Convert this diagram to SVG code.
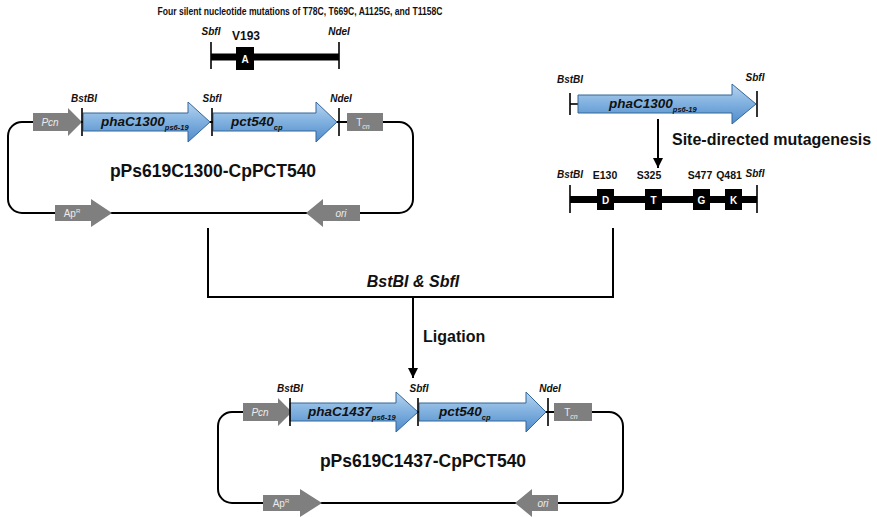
<svg xmlns="http://www.w3.org/2000/svg" width="877" height="517" viewBox="0 0 877 517">
  <defs>
    <linearGradient id="blueFill" x1="0" y1="0" x2="0" y2="1">
      <stop offset="0" stop-color="#b9d5f0"/>
      <stop offset="0.45" stop-color="#84b3e0"/>
      <stop offset="1" stop-color="#4f8bcb"/>
    </linearGradient>
    <marker id="arrowHead" viewBox="0 0 10 10" refX="10" refY="5" markerWidth="10" markerHeight="10" markerUnits="userSpaceOnUse" orient="auto">
      <path d="M0,0 L10,5 L0,10 Z" fill="#000"/>
    </marker>
  </defs>
  <style>
    text { font-family: "Liberation Sans", Arial, sans-serif; }
    .site { font-size: 10px; font-weight: bold; font-style: italic; text-anchor: middle; fill: #111; }
    .gene { font-size: 13.5px; font-weight: bold; font-style: italic; fill: #111; }
    .sub { font-size: 7.5px; }
    .gray { fill: #7f7f7f; }
    .grayText { font-size: 10px; fill: #ececec; text-anchor: middle; }
    .blue { fill: url(#blueFill); stroke: #336699; stroke-width: 1; }
    .tick { stroke: #000; stroke-width: 1.6; }
    .line { stroke: #000; stroke-width: 2; fill: none; }
    .bar { fill: #000; }
    .box { fill: #000; }
    .boxText { font-size: 10px; font-weight: bold; fill: #fff; text-anchor: middle; }
    .pos { font-size: 10.5px; font-weight: bold; fill: #111; text-anchor: middle; }
    .name { font-size: 17.5px; font-weight: bold; fill: #111; text-anchor: middle; }
    .step { font-size: 16px; font-weight: bold; fill: #111; }
  </style>

  <rect width="877" height="517" fill="#fff"/>

  <!-- SbfI–NdeI fragment carrying the silent mutations -->
  <g id="silent-fragment">
    <text x="300" y="15" font-size="10.5" font-weight="bold" text-anchor="middle" fill="#111" textLength="285" lengthAdjust="spacingAndGlyphs">Four silent nucleotide mutations of T78C, T669C, A1125G, and T1158C</text>
    <text class="site" x="211" y="35">SbfI</text>
    <text class="site" x="339" y="35">NdeI</text>
    <text x="246" y="40" font-size="12" font-weight="bold" text-anchor="middle" fill="#111">V193</text>
    <rect class="bar" x="211" y="53.5" width="128" height="7"/>
    <line class="tick" x1="211" y1="42" x2="211" y2="69"/>
    <line class="tick" x1="339" y1="42" x2="339" y2="69"/>
    <rect class="box" x="236" y="47" width="18" height="23"/>
    <text class="boxText" x="245" y="63">A</text>
  </g>

  <!-- Parent plasmid -->
  <g id="plasmid-c1300">
    <rect class="line" x="8" y="122" width="405" height="91" rx="14"/>
    <polygon class="gray" points="33,113 68,113 68,108 82,122 68,136 68,131 33,131"/>
    <text class="grayText" x="50" y="126" font-style="italic">Pcn</text>
    <polygon class="blue" points="83,113 188,113 188,102 210,122 188,142 188,131 83,131"/>
    <text class="gene" x="101" y="126">phaC1300<tspan class="sub" dy="4">ps6-19</tspan></text>
    <polygon class="blue" points="213,113 316,113 316,102 337,122 316,142 316,131 213,131"/>
    <text class="gene" x="231" y="126">pct540<tspan class="sub" dy="4">cp</tspan></text>
    <rect class="gray" x="347" y="113" width="36" height="18"/>
    <text class="grayText" x="363" y="126">T<tspan font-size="7" font-style="italic" dy="3">cn</tspan></text>
    <line class="tick" x1="82" y1="108" x2="82" y2="136"/>
    <line class="tick" x1="212" y1="108" x2="212" y2="136"/>
    <line class="tick" x1="339" y1="108" x2="339" y2="136"/>
    <text class="site" x="84" y="102">BstBI</text>
    <text class="site" x="212" y="102">SbfI</text>
    <text class="site" x="341" y="102">NdeI</text>
    <text class="name" x="213" y="177">pPs619C1300-CpPCT540</text>
    <polygon class="gray" points="55,205 91,205 91,199 112,213 91,227 91,221 55,221"/>
    <text class="grayText" x="72" y="217">Ap<tspan font-size="6" dy="-4">R</tspan></text>
    <polygon class="gray" points="360,205 323,205 323,199 306,213 323,227 323,221 360,221"/>
    <text class="grayText" x="341" y="217" font-style="italic">ori</text>
  </g>

  <!-- phaC1300 BstBI–SbfI insert -->
  <g id="insert-phaC1300">
    <line class="tick" x1="570" y1="93" x2="570" y2="115"/>
    <line class="tick" x1="570" y1="104" x2="580" y2="104"/>
    <polygon class="blue" points="578,95 732,95 732,84 756,104 732,124 732,113 578,113"/>
    <line class="tick" x1="757" y1="91" x2="757" y2="117"/>
    <text class="site" x="570" y="83">BstBI</text>
    <text class="site" x="755" y="81">SbfI</text>
    <text class="gene" x="609" y="108">phaC1300<tspan class="sub" dy="4">ps6-19</tspan></text>
  </g>

  <!-- Mutated insert with the four amino-acid changes -->
  <g id="insert-mutated">
    <text class="site" x="570" y="178">BstBI</text>
    <text class="pos" x="605" y="179">E130</text>
    <text class="pos" x="649" y="179">S325</text>
    <text class="pos" x="700" y="179">S477</text>
    <text class="pos" x="729" y="179">Q481</text>
    <text class="site" x="755" y="177">SbfI</text>
    <rect class="bar" x="570" y="196" width="187" height="7"/>
    <line class="tick" x1="570" y1="185" x2="570" y2="213"/>
    <line class="tick" x1="757" y1="185" x2="757" y2="213"/>
    <rect class="box" x="597" y="189" width="17" height="21"/>
    <text class="boxText" x="605.5" y="203.5">D</text>
    <rect class="box" x="645" y="189" width="17" height="21"/>
    <text class="boxText" x="653.5" y="203.5">T</text>
    <rect class="box" x="693" y="189" width="17" height="21"/>
    <text class="boxText" x="701.5" y="203.5">G</text>
    <rect class="box" x="725" y="189" width="17" height="21"/>
    <text class="boxText" x="733.5" y="203.5">K</text>
  </g>

  <!-- Resulting plasmid -->
  <g id="plasmid-c1437" transform="translate(210,290)">
    <rect class="line" x="8" y="122" width="405" height="91" rx="14"/>
    <polygon class="gray" points="33,113 68,113 68,108 82,122 68,136 68,131 33,131"/>
    <text class="grayText" x="50" y="126" font-style="italic">Pcn</text>
    <polygon class="blue" points="80,113 186,113 186,102 208,122 186,142 186,131 80,131"/>
    <text class="gene" x="98" y="126">phaC1437<tspan class="sub" dy="4">ps6-19</tspan></text>
    <polygon class="blue" points="209,113 316,113 316,102 336,122 316,142 316,131 209,131"/>
    <text class="gene" x="229" y="126">pct540<tspan class="sub" dy="4">cp</tspan></text>
    <rect class="gray" x="344" y="113" width="38" height="18"/>
    <text class="grayText" x="361" y="126">T<tspan font-size="7" font-style="italic" dy="3">cn</tspan></text>
    <line class="tick" x1="80" y1="108" x2="80" y2="136"/>
    <line class="tick" x1="208" y1="108" x2="208" y2="136"/>
    <line class="tick" x1="338" y1="108" x2="338" y2="136"/>
    <text class="site" x="80" y="102">BstBI</text>
    <text class="site" x="209" y="102">SbfI</text>
    <text class="site" x="340" y="102">NdeI</text>
    <text class="name" x="213" y="177">pPs619C1437-CpPCT540</text>
    <polygon class="gray" points="53,205 90,205 90,199 112,213 90,227 90,221 53,221"/>
    <text class="grayText" x="71" y="217">Ap<tspan font-size="6" dy="-4">R</tspan></text>
    <polygon class="gray" points="348,205 322,205 322,199 305,213 322,227 322,221 348,221"/>
    <text class="grayText" x="333" y="217" font-style="italic">ori</text>
  </g>

  <!-- Process connectors -->
  <g id="connectors">
    <line class="line" x1="658" y1="119" x2="658" y2="168" marker-end="url(#arrowHead)"/>
    <text class="step" x="672" y="145">Site-directed mutagenesis</text>
    <polyline class="line" points="208,228 208,297 613,297 613,228"/>
    <text class="step" x="413" y="287" font-style="italic" text-anchor="middle">BstBI &amp; SbfI</text>
    <line class="line" x1="413" y1="297" x2="413" y2="378" marker-end="url(#arrowHead)"/>
    <text class="step" x="423" y="342">Ligation</text>
  </g>
</svg>
